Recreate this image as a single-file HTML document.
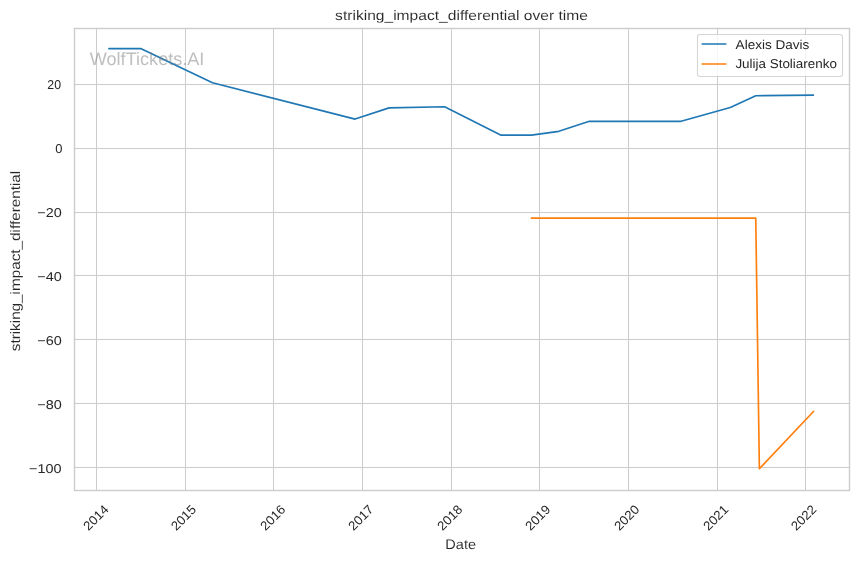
<!DOCTYPE html>
<html lang="en">
<head>
<meta charset="utf-8">
<title>striking_impact_differential over time</title>
<style>
html,body{margin:0;padding:0;background:#ffffff;}
body{width:858px;height:561px;overflow:hidden;}
svg{display:block;will-change:transform;}
text{font-family:"Liberation Sans",sans-serif;fill:#262626;text-rendering:geometricPrecision;}
.t{font-size:13.73px;stroke:#ffffff;stroke-width:0.07px;}
.k{font-size:12.83px;}
.w{font-size:18.00px;fill:#808080;fill-opacity:0.5;}
.g line{stroke:#cccccc;stroke-width:1;shape-rendering:crispEdges;}
</style>
</head>
<body>
<svg width="858" height="561" viewBox="0 0 858 561">
<rect x="0" y="0" width="858" height="561" fill="#ffffff"/>
<!-- grid -->
<g class="g">
<line x1="96.5" y1="28.5" x2="96.5" y2="490.5"/>
<line x1="185.5" y1="28.5" x2="185.5" y2="490.5"/>
<line x1="273.5" y1="28.5" x2="273.5" y2="490.5"/>
<line x1="362.5" y1="28.5" x2="362.5" y2="490.5"/>
<line x1="451.5" y1="28.5" x2="451.5" y2="490.5"/>
<line x1="539.5" y1="28.5" x2="539.5" y2="490.5"/>
<line x1="628.5" y1="28.5" x2="628.5" y2="490.5"/>
<line x1="717.5" y1="28.5" x2="717.5" y2="490.5"/>
<line x1="805.5" y1="28.5" x2="805.5" y2="490.5"/>
<line x1="74.5" y1="84.5" x2="849.5" y2="84.5"/>
<line x1="74.5" y1="148.5" x2="849.5" y2="148.5"/>
<line x1="74.5" y1="212.5" x2="849.5" y2="212.5"/>
<line x1="74.5" y1="275.5" x2="849.5" y2="275.5"/>
<line x1="74.5" y1="339.5" x2="849.5" y2="339.5"/>
<line x1="74.5" y1="403.5" x2="849.5" y2="403.5"/>
<line x1="74.5" y1="467.5" x2="849.5" y2="467.5"/>
</g>
<!-- data lines -->
<polyline points="108.93,48.70 141.19,48.70 212.49,82.81 355.10,119.07 389.05,107.89 444.59,106.77 501.10,135.19 531.42,135.19 558.82,131.30 589.38,121.30 681.06,121.30 730.29,107.44 755.75,95.75 813.48,95.11" fill="none" stroke="#1f77b4" stroke-width="1.667" stroke-linecap="round" stroke-linejoin="round"/>
<polyline points="531.42,218.14 755.75,218.14 759.39,468.70 813.48,411.47" fill="none" stroke="#ff7f0e" stroke-width="1.667" stroke-linecap="round" stroke-linejoin="round"/>
<!-- axes frame -->
<rect x="74.5" y="28.5" width="775" height="462" fill="none" stroke="#cccccc" stroke-width="1.39"/>
<!-- watermark -->
<text class="w" x="89.80" y="64.90" textLength="114.6" lengthAdjust="spacingAndGlyphs">WolfTickets.AI</text>
<!-- title and axis labels -->
<text class="t" x="335.10" y="19.90" textLength="252.8" lengthAdjust="spacingAndGlyphs">striking_impact_differential over time</text>
<text class="t" x="445.35" y="549.30" textLength="30.7" lengthAdjust="spacingAndGlyphs">Date</text>
<text class="t" transform="translate(20.00,261.00) rotate(-90)" x="-90.25" y="0" textLength="180.5" lengthAdjust="spacingAndGlyphs">striking_impact_differential</text>
<!-- y tick labels -->
<text class="k" x="47.35" y="88.50" textLength="13.75" lengthAdjust="spacingAndGlyphs">20</text>
<text class="k" x="55.15" y="152.50" textLength="7.20" lengthAdjust="spacingAndGlyphs">0</text>
<text class="k" x="37.25" y="216.50" textLength="24.45" lengthAdjust="spacingAndGlyphs">−20</text>
<text class="k" x="37.25" y="280.50" textLength="24.45" lengthAdjust="spacingAndGlyphs">−40</text>
<text class="k" x="37.25" y="344.50" textLength="24.45" lengthAdjust="spacingAndGlyphs">−60</text>
<text class="k" x="37.25" y="408.50" textLength="24.45" lengthAdjust="spacingAndGlyphs">−80</text>
<text class="k" x="29.13" y="472.50" textLength="32.50" lengthAdjust="spacingAndGlyphs">−100</text>
<!-- x tick labels -->
<text class="k" transform="translate(95.87,517.75) rotate(-45)" x="-14.75" y="4.30" textLength="29.5" lengthAdjust="spacingAndGlyphs">2014</text>
<text class="k" transform="translate(183.57,517.75) rotate(-45)" x="-14.75" y="4.30" textLength="29.5" lengthAdjust="spacingAndGlyphs">2015</text>
<text class="k" transform="translate(272.86,517.75) rotate(-45)" x="-14.75" y="4.30" textLength="29.5" lengthAdjust="spacingAndGlyphs">2016</text>
<text class="k" transform="translate(360.84,517.75) rotate(-45)" x="-14.75" y="4.30" textLength="29.5" lengthAdjust="spacingAndGlyphs">2017</text>
<text class="k" transform="translate(449.83,517.75) rotate(-45)" x="-14.75" y="4.30" textLength="29.5" lengthAdjust="spacingAndGlyphs">2018</text>
<text class="k" transform="translate(537.80,517.75) rotate(-45)" x="-14.75" y="4.30" textLength="29.5" lengthAdjust="spacingAndGlyphs">2019</text>
<text class="k" transform="translate(626.79,517.75) rotate(-45)" x="-14.75" y="4.30" textLength="29.5" lengthAdjust="spacingAndGlyphs">2020</text>
<text class="k" transform="translate(715.81,517.75) rotate(-45)" x="-14.75" y="4.30" textLength="29.5" lengthAdjust="spacingAndGlyphs">2021</text>
<text class="k" transform="translate(803.72,517.75) rotate(-45)" x="-14.75" y="4.30" textLength="29.5" lengthAdjust="spacingAndGlyphs">2022</text>
<!-- legend -->
<rect x="697.5" y="34.5" width="145" height="42" rx="2.44" ry="2.44" fill="#ffffff" fill-opacity="0.8" stroke="#cccccc" stroke-opacity="0.8" stroke-width="1.11"/>
<line x1="702.2" y1="44" x2="725.8" y2="44" stroke="#1f77b4" stroke-width="1.667" stroke-linecap="round"/>
<line x1="702.2" y1="64" x2="725.8" y2="64" stroke="#ff7f0e" stroke-width="1.667" stroke-linecap="round"/>
<text class="k" x="735.60" y="48.90" textLength="73.8" lengthAdjust="spacingAndGlyphs">Alexis Davis</text>
<text class="k" x="735.40" y="68.00" textLength="101.5" lengthAdjust="spacingAndGlyphs">Julija Stoliarenko</text>
</svg>
</body>
</html>
